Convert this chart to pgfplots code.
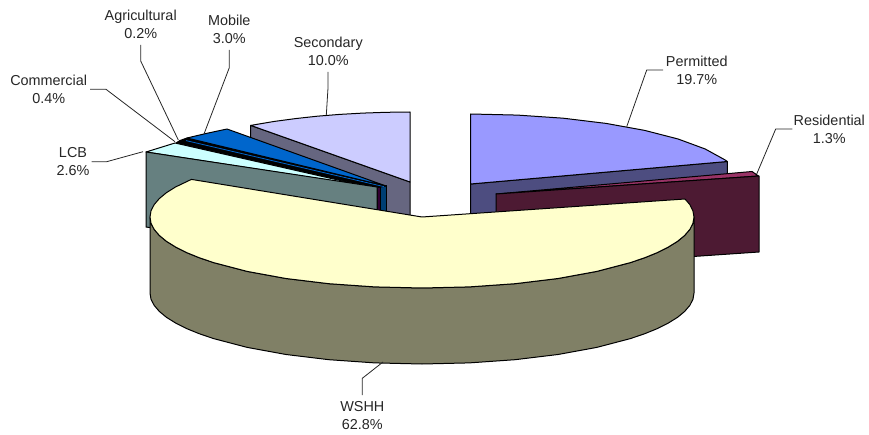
\documentclass[border=0pt]{standalone}
\usepackage{pgfplots}
\pgfplotsset{compat=1.18}
\usepackage{fontspec}
\setmainfont{Liberation Sans}
\definecolor{wtop}{HTML}{FFFFCC}\definecolor{wside}{HTML}{808066}
\definecolor{stop}{HTML}{CCCCFF}\definecolor{sside}{HTML}{666680}
\definecolor{ptop}{HTML}{9999FF}\definecolor{pside}{HTML}{4D4D80}
\definecolor{rtop}{HTML}{993366}\definecolor{rside}{HTML}{4D1A33}
\definecolor{ltop}{HTML}{CCFFFF}\definecolor{lside}{HTML}{668080}
\definecolor{mtop}{HTML}{0066CC}\definecolor{mside}{HTML}{003F73}
\definecolor{cside}{HTML}{330033}
\tikzset{lab/.style={align=center, font=\fontsize{14.4}{18}\selectfont, text=black!85, inner sep=0pt, anchor=center}}
\begin{document}
\begin{tikzpicture}
\path[use as bounding box] (0,0) rectangle (869pt,435pt);
\begin{axis}[
  at={(0,0)}, anchor=south west,
  scale only axis, width=869pt, height=435pt,
  xmin=0, xmax=869, ymin=0, ymax=435, y dir=reverse,
  axis lines=none, clip=false,
  every axis plot/.append style={mark=none, sharp plot, line join=round, line width=1pt},
]
% Secondary 10.0%
\addplot[draw=black, fill=sside] coordinates {(250.7,125.4)(410,182)(410,252)(250.7,195)} --cycle;
\addplot[draw=black, fill=stop] coordinates {(410,182)(410,112)(386.4,112.3)(362.9,113.1)(339.8,114.4)(317.3,116.2)(295.5,118.6)(274.5,121.4)(250.7,125.4)} --cycle;
% Mobile 3.0% faces
\addplot[draw=black, fill=mside] coordinates {(380.5,186)(386.3,186)(386.3,225)(380.5,225)} --cycle;
% Commercial / Agricultural
\addplot[draw=black, fill=cside] coordinates {(377,187)(380.5,187)(380.5,225)(377,225)} --cycle;
\addplot[draw=black, fill=black] coordinates {(176,143)(180,140.5)(187,138)(386,186)(378,187.5)(360,185)} --cycle;
\addplot[draw=mtop, line width=0.8pt] coordinates {(186,140.6)(384,186.6)};
% Mobile top
\addplot[draw=black, fill=mtop] coordinates {(187,138)(206,133.5)(227,129)(386,186)} --cycle;
% LCB 2.6%
\addplot[draw=black, fill=ltop] coordinates {(146,152)(175,143)(360,185)} --cycle;
\addplot[draw=black, fill=lside] coordinates {(146,152)(377,187)(377,262)(146,227)} --cycle;
% Permitted 19.7%
\addplot[draw=black, fill=pside] coordinates {(470.5,184)(727.3,161.5)(727.3,232)(470.5,254)} --cycle;
\addplot[draw=black, fill=ptop] coordinates {(470.5,184)(470.5,114)(517.6,115.1)(563.2,118.2)(606,123.4)(644.7,130.4)(678.1,139)(705.2,149)(725.2,160)(727.3,161.5)} --cycle;
% Residential 1.3%
\addplot[draw=black, fill=rtop] coordinates {(496,194)(752,171.5)(758.5,176)} --cycle;
\addplot[draw=black, fill=rside] coordinates {(496,194)(759,176)(759,252)(496,270)} --cycle;
% WSHH 62.8%
\addplot[draw=black, fill=wside] coordinates {(694,217)(692.96,223.2)(689.9,229.3)(684.7,235.4)(677.6,241.3)(668.4,247)(657.6,252.5)(644.8,257.7)(630.4,262.6)(596.8,271.4)(558,278.5)(515,283.7)(469.2,286.9)(422,288)(374.8,286.9)(329,283.7)(286,278.5)(247.2,271.4)(213.6,262.6)(199.2,257.7)(186.4,252.5)(175.6,247)(166.4,241.3)(159.3,235.4)(154.1,229.3)(151,223.2)(150,217)
 (150,293)(151,299.2)(154.1,305.3)(159.3,311.4)(166.4,317.3)(175.6,323)(186.4,328.5)(199.2,333.7)(213.6,338.6)(247.2,347.4)(286,354.5)(329,359.7)(374.8,362.9)(422,364)(469.2,362.9)(515,359.7)(558,354.5)(596.8,347.4)(630.4,338.6)(644.8,333.7)(657.6,328.5)(668.4,323)(677.6,317.3)(684.7,311.4)(689.9,305.3)(692.96,299.2)(694,293)} --cycle;
\addplot[draw=black, fill=wtop] coordinates {(422,217)(685,199)(689.9,204.7)(692.9,210.8)(694,217)(692.96,223.2)(689.9,229.3)(684.7,235.4)(677.6,241.3)(668.4,247)(657.6,252.5)(644.8,257.7)(630.4,262.6)(596.8,271.4)(558,278.5)(515,283.7)(469.2,286.9)(422,288)(374.8,286.9)(329,283.7)(286,278.5)(247.2,271.4)(213.6,262.6)(199.2,257.7)(186.4,252.5)(175.6,247)(166.4,241.3)(159.3,235.4)(154.1,229.3)(151,223.2)(150,217)(151,210.8)(154.1,204.7)(159.3,198.6)(166.4,192.7)(175.5,187)(191.4,179.4)} --cycle;
% Leader lines
\addplot[draw=black!85, line width=0.8pt] coordinates {(626.7,126.7)(646.7,70)(663,70)};
\addplot[draw=black!85, line width=0.8pt] coordinates {(756.7,174)(775.7,129)(792.3,129)};
\addplot[draw=black!85, line width=0.8pt] coordinates {(326.3,115)(328,88)(328,72)};
\addplot[draw=black!85, line width=0.8pt] coordinates {(204,134)(229.3,67.7)(229.3,50)};
\addplot[draw=black!85, line width=0.8pt] coordinates {(178.3,140)(140.7,61)(140.7,45)};
\addplot[draw=black!85, line width=0.8pt] coordinates {(175,141.7)(106,89.3)(90,89.3)};
\addplot[draw=black!85, line width=0.8pt] coordinates {(143,151.7)(106.7,161.7)(91.7,161.7)};
\addplot[draw=black!85, line width=0.8pt] coordinates {(383,362)(362.3,378.3)(362.3,395)};
% Labels
\node[lab] at (axis cs:696.7,70) {Permitted\\19.7\%};
\node[lab] at (axis cs:829.3,129) {Residential\\1.3\%};
\node[lab] at (axis cs:328.3,51) {Secondary\\10.0\%};
\node[lab] at (axis cs:140.7,24.5) {Agricultural\\0.2\%};
\node[lab] at (axis cs:229.3,29) {Mobile\\3.0\%};
\node[lab] at (axis cs:48.7,89) {Commercial\\0.4\%};
\node[lab] at (axis cs:73,161.5) {LCB\\2.6\%};
\node[lab] at (axis cs:362.3,416) {WSHH\\62.8\%};
\end{axis}
\end{tikzpicture}
\end{document}
